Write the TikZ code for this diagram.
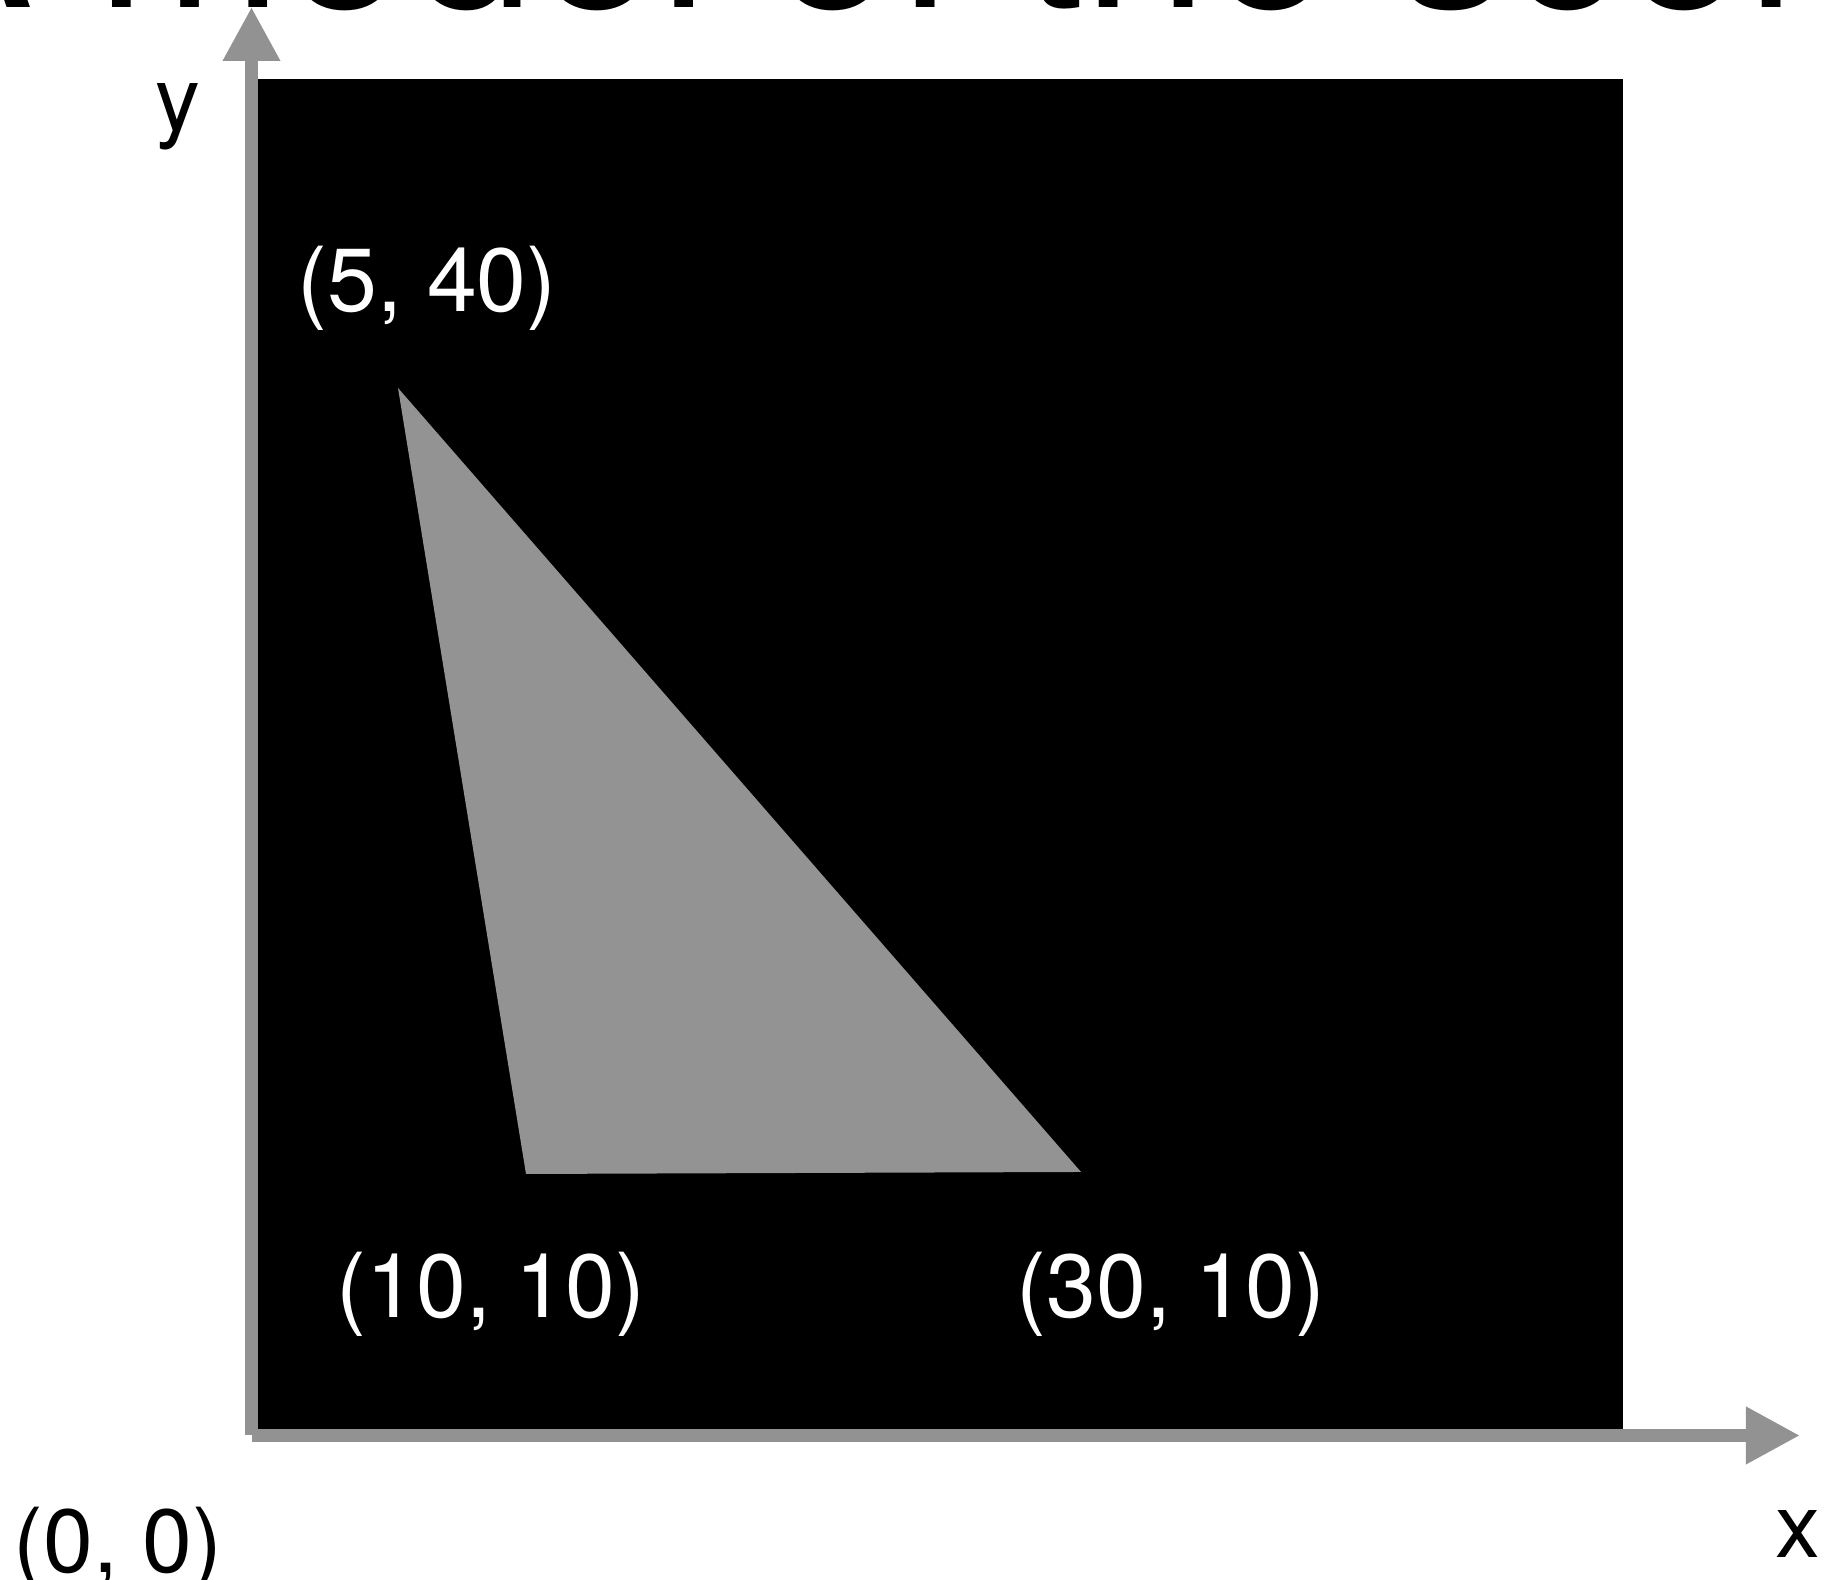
\documentclass[tikz,border=0pt]{standalone}
\usepackage{fontspec}
\setmainfont{TeX Gyre Heros}
\usetikzlibrary{arrows.meta}
\definecolor{axisgray}{HTML}{929292}
\definecolor{trigray}{HTML}{939393}

\begin{document}
\begin{tikzpicture}[
  x=0.01cm, y=0.01cm,
  axis/.style={draw=axisgray, line width=1.3mm, -{Triangle[length=5.4mm, width=5.4mm]}},
  vlabel/.style={text=white, inner sep=0pt, anchor=base, font=\fontsize{25.5}{30}\selectfont},
  alabel/.style={text=black, inner sep=0pt, anchor=base, font=\fontsize{25.5}{30}\selectfont},
  title/.style={inner sep=0pt, anchor=base west, font=\fontsize{64}{70}\selectfont}
]
  \useasboundingbox (0,0) rectangle (1826,1580);
  \clip (0,0) rectangle (1826,1580);

  % Title (cut off by the page edge)
  \node[title] (heading) at (-117,1572) {A model of the scene};

  % Scene
  \fill[black] (258,150) rectangle (1623,1501);
  \coordinate (pa) at (398,1192);
  \coordinate (pb) at (526,406);
  \coordinate (pc) at (1081,408);
  \fill[trigray] (pa) -- (pb) -- (pc) -- cycle;

  % Axes
  \coordinate (ybot) at (251.5,145);
  \coordinate (ytip) at (251.5,1573);
  \coordinate (xleft) at (252,144.5);
  \coordinate (xtip) at (1800,144.5);
  \draw[axis] (ybot) -- (ytip);
  \draw[axis] (xleft) -- (xtip);

  % Labels
  \node[vlabel] (la) at (427,1268) {(5, 40)};
  \node[vlabel] (lb) at (491,262) {(10, 10)};
  \node[vlabel] (lc) at (1171,262) {(30, 10)};
  \node[alabel] (lorigin) at (118,7) {(0, 0)};
  \node[alabel] (ly) at (178,1449) {y};
  \node[alabel] (lx) at (1798,22) {x};
\end{tikzpicture}
\end{document}
